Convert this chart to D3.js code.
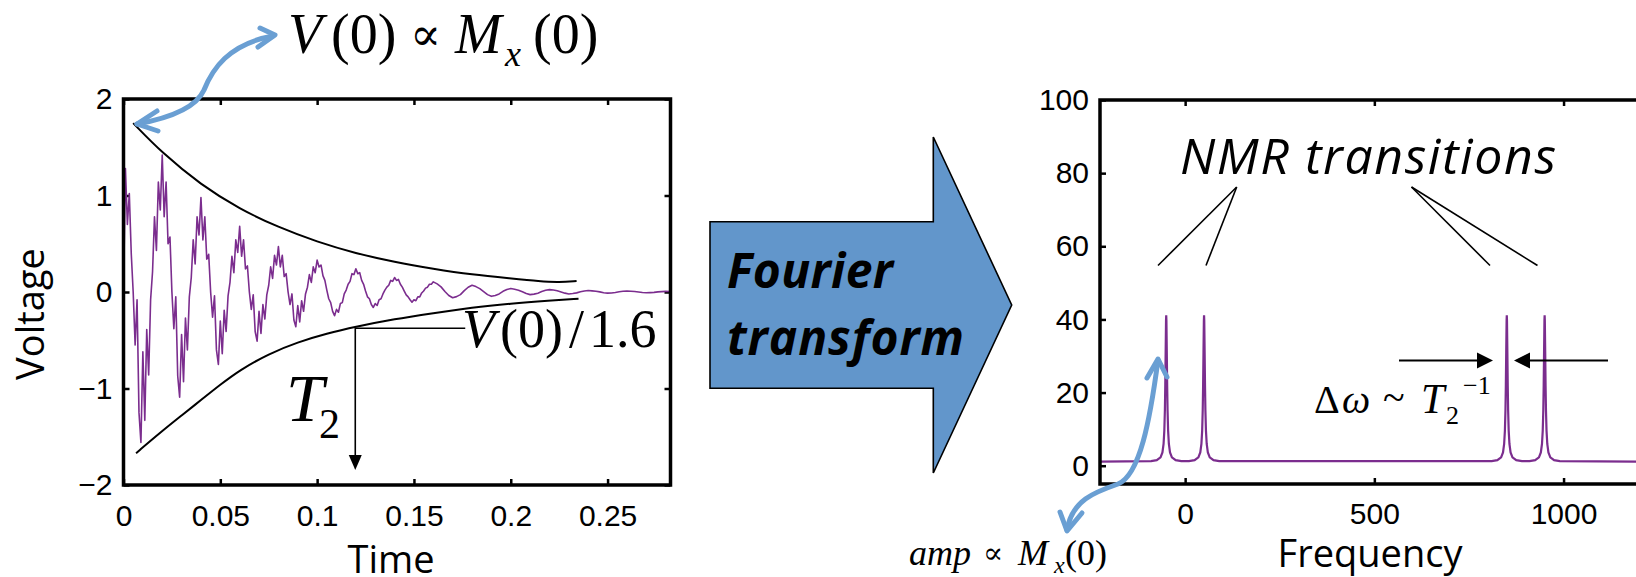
<!DOCTYPE html>
<html lang="en">
<head>
<meta charset="UTF-8">
<title>FID and NMR spectrum</title>
<script src="https://cdn.jsdelivr.net/npm/d3@7/dist/d3.min.js"></script>
<style>
    body { margin: 0; background: #fff; }
    svg { display: block; }
    .tick text { font-family: "Liberation Sans", Arial, sans-serif; font-size: 30px; fill: #000; }
    .tick line { stroke: #000; stroke-width: 2.5; }
    .label { font-family: "Open Sans", sans-serif; font-size: 38px; fill: #000; }
    .math { font-family: "Liberation Serif", "DejaVu Serif", serif; fill: #000; }
</style>
</head>
<body>
<script>
    // ---- data: free induction decay (left) ----
    const timeTicks = [0, 0.05, 0.1, 0.15, 0.2, 0.25];
    const voltTicks = [-2, -1, 0, 1, 2];

    // sampled signal, first part every 1 ms from t = 0
    const fidStepA = 0.001;
    const fidA = [
        0.00, 1.28, 0.70, 1.02, 0.40, 0.00, -0.55, -0.08, -1.25, -1.56, -0.62, -1.33, -0.39, -0.86, -0.08, 0.21, 0.78, 0.43, 1.14, 0.85,
        1.42, 0.78, 1.14, 0.50, 0.57, 0.00, -0.38, -0.05, -0.87, -1.09, -0.44, -0.93, -0.27, -0.60, -0.05, 0.15, 0.54, 0.29, 0.78, 0.59,
        0.98, 0.54, 0.78, 0.34, 0.39, 0.00, -0.26, -0.04, -0.60, -0.75, -0.30, -0.64, -0.19, -0.41, -0.04, 0.10, 0.37, 0.20, 0.54, 0.41,
        0.68, 0.37, 0.54, 0.24, 0.27, 0.00, -0.18, -0.03, -0.41, -0.51, -0.20, -0.43, -0.13, -0.28, -0.03, 0.07, 0.26, 0.14, 0.38, 0.28,
        0.47, 0.26, 0.38, 0.16, 0.19, 0.00, -0.13, -0.02, -0.29, -0.36, -0.14, -0.31, -0.09, -0.20, -0.02, 0.05, 0.18, 0.10, 0.26, 0.20,
        0.33, 0.26, 0.28, 0.17, 0.12, 0.02, -0.07, -0.11, -0.20, -0.245, -0.18, -0.21, -0.12, -0.11, -0.02, 0.02, 0.08, 0.11, 0.19, 0.18,
        0.24, 0.19, 0.20, 0.12, 0.08, 0.01, -0.05, -0.07, -0.13, -0.16, -0.12, -0.14, -0.08, -0.07, -0.02, 0.02, 0.05, 0.07, 0.12, 0.11,
        0.15, 0.12, 0.13, 0.08, 0.05, 0.01, -0.03, -0.05, -0.08, -0.105, -0.08, -0.09, -0.05, -0.05, -0.01, 0.01, 0.04, 0.05, 0.08, 0.08,
        0.105
    ];
    // second part every 2 ms from t = 0.162
    const fidStartB = 0.162;
    const fidStepB = 0.002;
    const fidB = [
        0.084, 0.053, 0.005, -0.036, -0.06, -0.048, -0.027, 0.014, 0.049,
        0.07, 0.056, 0.035, 0.004, -0.027, -0.045, -0.036, -0.02, 0.007, 0.025,
        0.036, 0.029, 0.018, 0.002, -0.016, -0.027, -0.022, -0.012, 0.005, 0.018,
        0.025, 0.02, 0.013, 0.001, -0.012, -0.02, -0.016, -0.009, 0.003, 0.011,
        0.015, 0.012, 0.008, 0.001, -0.007, -0.012, -0.01, -0.005, 0.002, 0.007,
        0.01, 0.008, 0.005, 0.0, -0.005, -0.008, -0.006, -0.004, 0.001, 0.004,
        0.006, 0.005
    ];

    // decay envelopes
    const envUpperT = [0.005, 0.02, 0.04, 0.06, 0.08, 0.10, 0.12, 0.14, 0.16, 0.18, 0.20, 0.215, 0.225, 0.234];
    const envUpperV = [1.75, 1.44, 1.11, 0.86, 0.67, 0.52, 0.40, 0.31, 0.24, 0.18, 0.14, 0.11, 0.10, 0.115];
    const envLowerT = [0.0065, 0.02, 0.03, 0.04, 0.05, 0.06, 0.075, 0.09, 0.105, 0.12, 0.14, 0.16, 0.18, 0.20, 0.22, 0.235];
    const envLowerV = [-1.67, -1.44, -1.28, -1.12, -0.96, -0.81, -0.64, -0.52, -0.43, -0.36, -0.28, -0.22, -0.16, -0.12, -0.09, -0.07];

    // T2 marker (time, voltage)
    const t2Time = 0.1197;
    const t2Volt = -0.376;
    const t2LabelTime = 0.1765;
    const t2ArrowEnd = -1.845;

    // ---- data: spectrum (right) ----
    const freqTicks = [0, 500, 1000];
    const ampTicks = [0, 20, 40, 60, 80, 100];
    const specStart = -225;
    const specEnd = 1225;
    const specBase = 1.1;
    const peakCenters = [-50, 50, 850, 950];
    const peakOffsets = [-40, -25, -15, -10, -7, -5, -3.5, -2.5, -1.5, -0.5, 0, 0.5, 1.5, 2.5, 3.5, 5, 7, 10, 15, 25, 40];
    const peakValues = [1.27, 1.53, 2.27, 3.63, 5.95, 9.6, 15.3, 21.9, 31.1, 39.7, 41.1, 39.7, 31.1, 21.9, 15.3, 9.6, 5.95, 3.63, 2.27, 1.53, 1.27];

    const purple = '#7b2d8e';
    const blue = '#6a9fd3';

    const width = 1636;
    const height = 577;

    const svg = d3.select('body')
        .append('svg')
        .attr('width', width)
        .attr('height', height);

    // ================= left plot =================
    const tScale = d3.scaleLinear().domain([0, 0.2825]).range([123.5, 670.5]);
    const vScale = d3.scaleLinear().domain([-2, 2]).range([485, 99]);

    const noDomain = g => g.select('.domain').remove();

    svg.append('g')
        .attr('transform', `translate(0, ${vScale.range()[0]})`)
        .call(d3.axisBottom(tScale).tickValues(timeTicks).tickFormat(d => String(d))
            .tickSizeInner(-6).tickSizeOuter(0).tickPadding(20))
        .call(noDomain);
    svg.append('g')
        .attr('transform', `translate(0, ${vScale.range()[1]})`)
        .call(d3.axisTop(tScale).tickValues(timeTicks).tickFormat('')
            .tickSizeInner(-6).tickSizeOuter(0))
        .call(noDomain);
    svg.append('g')
        .attr('transform', `translate(${tScale.range()[0]}, 0)`)
        .call(d3.axisLeft(vScale).tickValues(voltTicks).tickFormat(d3.format('d'))
            .tickSizeInner(-6).tickSizeOuter(0).tickPadding(11))
        .call(noDomain);
    svg.append('g')
        .attr('transform', `translate(${tScale.range()[1]}, 0)`)
        .call(d3.axisRight(vScale).tickValues(voltTicks).tickFormat('')
            .tickSizeInner(-6).tickSizeOuter(0))
        .call(noDomain);

    // signal
    const fidPoints = fidA.map((v, i) => [i * fidStepA, v])
        .concat(fidB.map((v, i) => [fidStartB + i * fidStepB, v]));

    svg.append('path')
        .datum(fidPoints)
        .attr('fill', 'none')
        .attr('stroke', purple)
        .attr('stroke-width', 1.6)
        .attr('stroke-linejoin', 'round')
        .attr('d', d3.line().x(d => tScale(d[0])).y(d => vScale(d[1])));

    // envelopes
    const envLine = d3.line().x(d => tScale(d[0])).y(d => vScale(d[1])).curve(d3.curveBasis);
    svg.append('path')
        .datum(envUpperT.map((t, i) => [t, envUpperV[i]]))
        .attr('fill', 'none').attr('stroke', '#000').attr('stroke-width', 2)
        .attr('d', envLine);
    svg.append('path')
        .datum(envLowerT.map((t, i) => [t, envLowerV[i]]))
        .attr('fill', 'none').attr('stroke', '#000').attr('stroke-width', 2)
        .attr('d', envLine);

    // frame
    svg.append('rect')
        .attr('x', tScale.range()[0]).attr('y', vScale.range()[1])
        .attr('width', tScale.range()[1] - tScale.range()[0])
        .attr('height', vScale.range()[0] - vScale.range()[1])
        .attr('fill', 'none').attr('stroke', '#000').attr('stroke-width', 3.5);

    // T2 marker
    const tx = tScale(t2Time);
    svg.append('path')
        .attr('d', `M${tScale(t2LabelTime)},${vScale(t2Volt)}H${tx}V${vScale(t2ArrowEnd) - 14}`)
        .attr('fill', 'none').attr('stroke', '#000').attr('stroke-width', 1.6);
    svg.append('path')
        .attr('d', `M${tx},${vScale(t2ArrowEnd)}l-6.5,-15h13z`)
        .attr('fill', '#000');

    svg.append('text').attr('class', 'label')
        .attr('text-anchor', 'middle')
        .attr('transform', 'translate(44, 314) rotate(-90)')
        .text('Voltage');
    svg.append('text').attr('class', 'label')
        .attr('text-anchor', 'middle')
        .attr('x', 391).attr('y', 573)
        .text('Time');

    // ================= right plot =================
    const fScale = d3.scaleLinear().domain([specStart, specEnd]).range([1100, 1648.7]);
    const aScale = d3.scaleLinear().domain([-5, 100]).range([484, 100]);

    svg.append('g')
        .attr('transform', `translate(0, ${aScale.range()[0]})`)
        .call(d3.axisBottom(fScale).tickValues(freqTicks).tickFormat(d => String(d))
            .tickSizeInner(-6).tickSizeOuter(0).tickPadding(19))
        .call(noDomain);
    svg.append('g')
        .attr('transform', `translate(0, ${aScale.range()[1]})`)
        .call(d3.axisTop(fScale).tickValues(freqTicks).tickFormat('')
            .tickSizeInner(-6).tickSizeOuter(0))
        .call(noDomain);
    svg.append('g')
        .attr('transform', `translate(${fScale.range()[0]}, 0)`)
        .call(d3.axisLeft(aScale).tickValues(ampTicks).tickFormat(d => String(d))
            .tickSizeInner(-6).tickSizeOuter(0).tickPadding(11))
        .call(noDomain);

    const specPoints = [[specStart, specBase]];
    peakCenters.forEach(c => {
        peakOffsets.forEach((o, i) => specPoints.push([c + o, peakValues[i]]));
    });
    specPoints.push([specEnd, specBase]);

    svg.append('path')
        .datum(specPoints)
        .attr('fill', 'none')
        .attr('stroke', purple)
        .attr('stroke-width', 2.2)
        .attr('d', d3.line().x(d => fScale(d[0])).y(d => aScale(d[1])));

    svg.append('rect')
        .attr('x', fScale.range()[0]).attr('y', aScale.range()[1])
        .attr('width', fScale.range()[1] - fScale.range()[0])
        .attr('height', aScale.range()[0] - aScale.range()[1])
        .attr('fill', 'none').attr('stroke', '#000').attr('stroke-width', 3.5);

    svg.append('text').attr('class', 'label')
        .attr('text-anchor', 'middle')
        .attr('x', 1370).attr('y', 567)
        .text('Frequency');

    // NMR transitions pointers
    const pointerLines = [
        [1236.7, 187, 1158, 265.5], [1236.7, 187, 1206, 265.5],
        [1411.5, 187, 1490, 265.5], [1411.5, 187, 1537.5, 265.5]
    ];
    svg.selectAll('.pointer')
        .data(pointerLines)
        .enter()
        .append('line')
        .attr('class', 'pointer')
        .attr('x1', d => d[0]).attr('y1', d => d[1])
        .attr('x2', d => d[2]).attr('y2', d => d[3])
        .attr('stroke', '#000').attr('stroke-width', 1.6);

    svg.append('text')
        .attr('x', 1180).attr('y', 174)
        .attr('textLength', 376)
        .style('font-family', '"Open Sans", sans-serif')
        .style('font-style', 'italic')
        .style('font-size', '50px')
        .text('NMR transitions');

    // linewidth arrows
    svg.append('line').attr('x1', 1399).attr('y1', 360.5).attr('x2', 1478).attr('y2', 360.5)
        .attr('stroke', '#000').attr('stroke-width', 1.8);
    svg.append('path').attr('d', 'M1493,360.5l-16,-8v16z').attr('fill', '#000');
    svg.append('line').attr('x1', 1608).attr('y1', 360.5).attr('x2', 1528).attr('y2', 360.5)
        .attr('stroke', '#000').attr('stroke-width', 1.8);
    svg.append('path').attr('d', 'M1514,360.5l16,-8v16z').attr('fill', '#000');

    // ================= Fourier arrow =================
    svg.append('polygon')
        .attr('points', '710,221.7 933.3,221.7 933.3,137 1011.7,305 933.3,473 933.3,388.3 710,388.3')
        .attr('fill', '#6296cb')
        .attr('stroke', '#000')
        .attr('stroke-width', 1.6);
    const ftText = svg.append('g')
        .style('font-family', '"Open Sans", sans-serif')
        .style('font-style', 'italic')
        .style('font-weight', 'bold')
        .style('font-size', '48px');
    ftText.append('text').attr('x', 727).attr('y', 288).attr('textLength', 166).text('Fourier');
    ftText.append('text').attr('x', 727).attr('y', 355).attr('textLength', 237).text('transform');

    // ================= math annotations =================
    function mathText(x, y, str, size, italic) {
        svg.append('text')
            .attr('class', 'math')
            .attr('x', x).attr('y', y)
            .style('font-size', size + 'px')
            .style('font-style', italic ? 'italic' : 'normal')
            .text(str);
    }

    // V(0) ∝ Mx(0)
    mathText(288, 53, 'V', 56, true);
    mathText(331, 53, '(0)', 56, false);
    mathText(410, 50, '\u221D', 46, false);
    mathText(455, 53, 'M', 56, true);
    mathText(505, 66, 'x', 36, true);
    mathText(533, 53, '(0)', 56, false);

    // V(0)/1.6
    mathText(462, 347, 'V', 54, true);
    mathText(500, 347, '(0)', 54, false);
    mathText(569, 347, '/', 54, false);
    mathText(589, 347, '1.6', 54, false);

    // T2
    mathText(286, 421, 'T', 68, true);
    mathText(319, 438, '2', 42, false);

    // Δω ~ T2^-1
    mathText(1314, 413, '\u0394', 40, false);
    mathText(1342, 413, '\u03C9', 40, true);
    mathText(1383, 411, '~', 40, false);
    mathText(1421, 413, 'T', 42, true);
    mathText(1446, 424, '2', 26, false);
    mathText(1463, 394, '\u22121', 26, false);

    // amp ∝ Mx(0)
    mathText(909, 565, 'amp', 36, true);
    mathText(983, 563, '\u221D', 30, false);
    mathText(1018, 565, 'M', 36, true);
    mathText(1054, 573, 'x', 24, true);
    mathText(1065, 565, '(0)', 36, false);

    // ================= blue double arrows =================
    function blueArrow(d, heads) {
        svg.append('path').attr('d', d)
            .attr('fill', 'none').attr('stroke', blue).attr('stroke-width', 5)
            .attr('stroke-linecap', 'round');
        heads.forEach(h => {
            svg.append('polyline').attr('points', h)
                .attr('fill', 'none').attr('stroke', blue).attr('stroke-width', 5)
                .attr('stroke-linecap', 'round').attr('stroke-linejoin', 'round');
        });
    }
    blueArrow('M137,124 C170,118 196,108 204,90 C212,70 228,44 273,36',
        ['157,111 137,124 158,131', '260,28 275,35 258,47']);
    blueArrow('M1158,360 C1150,420 1140,475 1118,484 C1095,492 1072,500 1067,530',
        ['1147,378 1158,359 1167,377', '1060,512 1067,531 1082,513']);
</script>
</body>
</html>
